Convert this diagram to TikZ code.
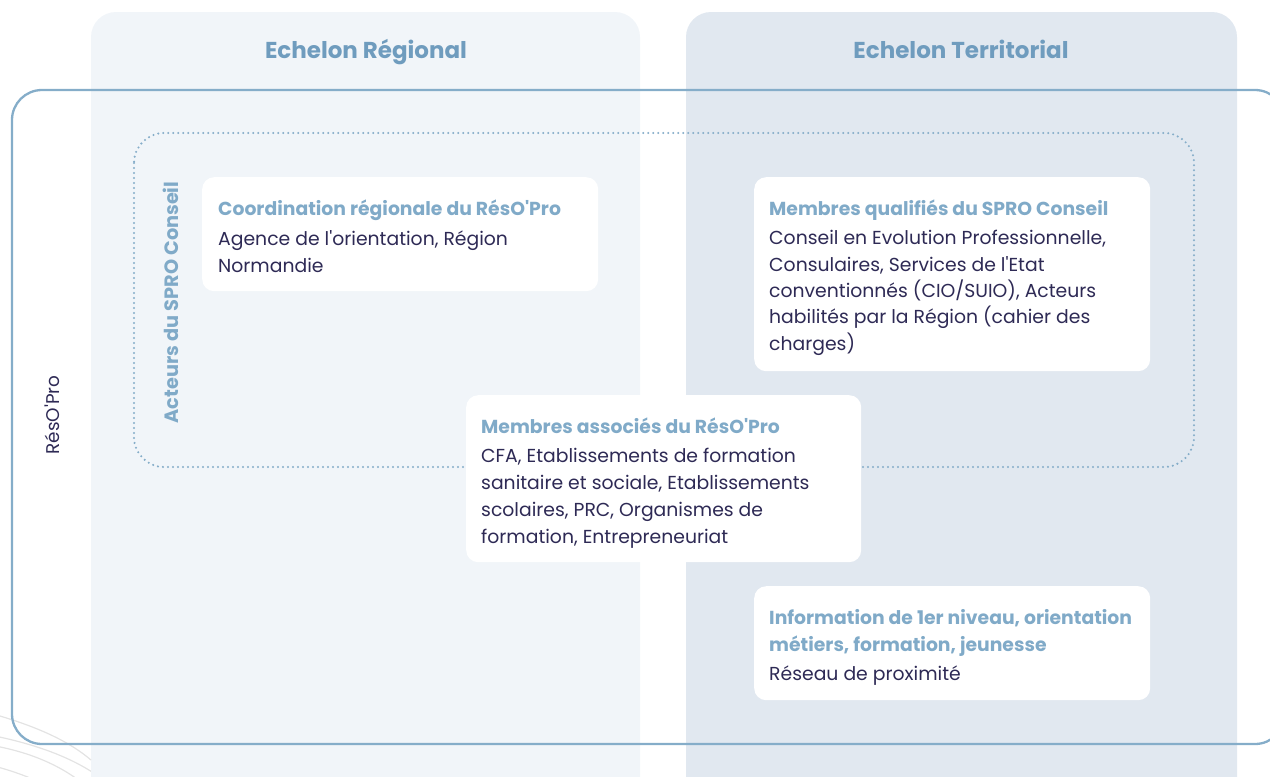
\documentclass[tikz,border=0pt]{standalone}
\usepackage{fontspec}
\setmainfont{Poppins}[Ligatures=TeXOff]
\newcommand{\ap}{'}
\definecolor{leftbg}{HTML}{F1F5F9}
\definecolor{rightbg}{HTML}{E1E8F0}
\definecolor{frame}{HTML}{85ADC9}
\definecolor{titlec}{HTML}{80AAC8}
\definecolor{headc}{HTML}{6F9CBE}
\definecolor{bodyc}{HTML}{2E2A55}
\definecolor{arcc}{HTML}{E3E3E3}
\tikzset{
  panel/.style={rounded corners=25pt},
  whitebox/.style={fill=white, rounded corners=12pt, draw=none, inner sep=0pt, anchor=north west},
  boxhead/.style={anchor=base west, inner sep=0pt, align=left, text=titlec, font=\fontsize{18.8}{27}\selectfont\bfseries},
  boxbody/.style={anchor=base west, inner sep=0pt, align=left, text=bodyc, font=\fontsize{18.8}{26.3}\selectfont},
  coltitle/.style={anchor=base, text=headc, font=\fontsize{23}{26}\selectfont\bfseries, inner sep=0pt},
  dotline/.style={draw=frame, line width=2.3pt, line cap=round, dash pattern=on 0pt off 5pt},
}
\begin{document}
\begin{tikzpicture}[x=1pt,y=-1pt]
\useasboundingbox (0,0) rectangle (1270,777);
\begin{scope}
\clip (0,0) rectangle (1270,777);
% decorative arcs
\draw[arcc, line width=1.2pt] (-10,735) .. controls (40,745) and (80,760) .. (110,785);
\draw[arcc, line width=1.2pt] (-10,745) .. controls (30,752) and (60,765) .. (85,785);
\draw[arcc, line width=1.2pt] (-10,765) .. controls (10,770) and (30,777) .. (45,785);
% panels
\fill[leftbg, panel] (91,12) rectangle (640,805);
\fill[rightbg, panel] (686,12) rectangle (1237,805);
\draw[arcc, line width=1.2pt] (0,716) .. controls (40,728) and (70,742) .. (91,760);
% outer frame
\draw[frame, line width=2.3pt, rounded corners=30pt] (12,90) rectangle (1285,744);
\end{scope}
\node[coltitle] (treg) at (366,58) {Echelon Régional};
\node[coltitle] (tter) at (961,58) {Echelon Territorial};
\node[rotate=90, text=bodyc, font=\fontsize{18.4}{20}\selectfont, inner sep=0pt] (reso) at (52,415) {RésO\ap Pro};
% dotted frame
\draw[dotline, rounded corners=30pt] (134,133) rectangle (1194,467);
\node[rotate=90, text=titlec, font=\fontsize{19.3}{20}\selectfont\bfseries, inner sep=0pt] (acteurs) at (170.5,302.5) {Acteurs du SPRO Conseil};
% boxes
\node[whitebox, minimum width=396pt, minimum height=114pt] (coord) at (202,177) {};
\node[boxhead] (coordh) at (218,215) {Coordination régionale du RésO\ap Pro};
\node[boxbody] (coordb) at (218,272) {Agence de l\ap orientation, Région\\Normandie};

\node[whitebox, minimum width=396pt, minimum height=194pt] (qual) at (754,177) {};
\node[boxhead] (qualh) at (769,215) {Membres qualifiés du SPRO Conseil};
\node[boxbody] (qualb) at (769,350) {Conseil en Evolution Professionnelle,\\Consulaires, Services de l\ap Etat\\conventionnés (CIO/SUIO), Acteurs\\habilités par la Région (cahier des\\charges)};

\node[whitebox, minimum width=395pt, minimum height=167pt] (assoc) at (466,395) {};
\node[boxhead] (assoch) at (481,433) {Membres associés du RésO\ap Pro};
\node[boxbody, font=\fontsize{18.8}{26.7}\selectfont] (assocb) at (481,543) {CFA, Etablissements de formation\\sanitaire et sociale, Etablissements\\scolaires, PRC, Organismes de\\formation, Entrepreneuriat};

\node[whitebox, minimum width=396pt, minimum height=114pt] (info) at (754,586) {};
\node[boxhead] (infoh) at (769,651) {Information de 1er niveau, orientation\\métiers, formation, jeunesse};
\node[boxbody] (infob) at (769,680) {Réseau de proximité};
\end{tikzpicture}
\end{document}
